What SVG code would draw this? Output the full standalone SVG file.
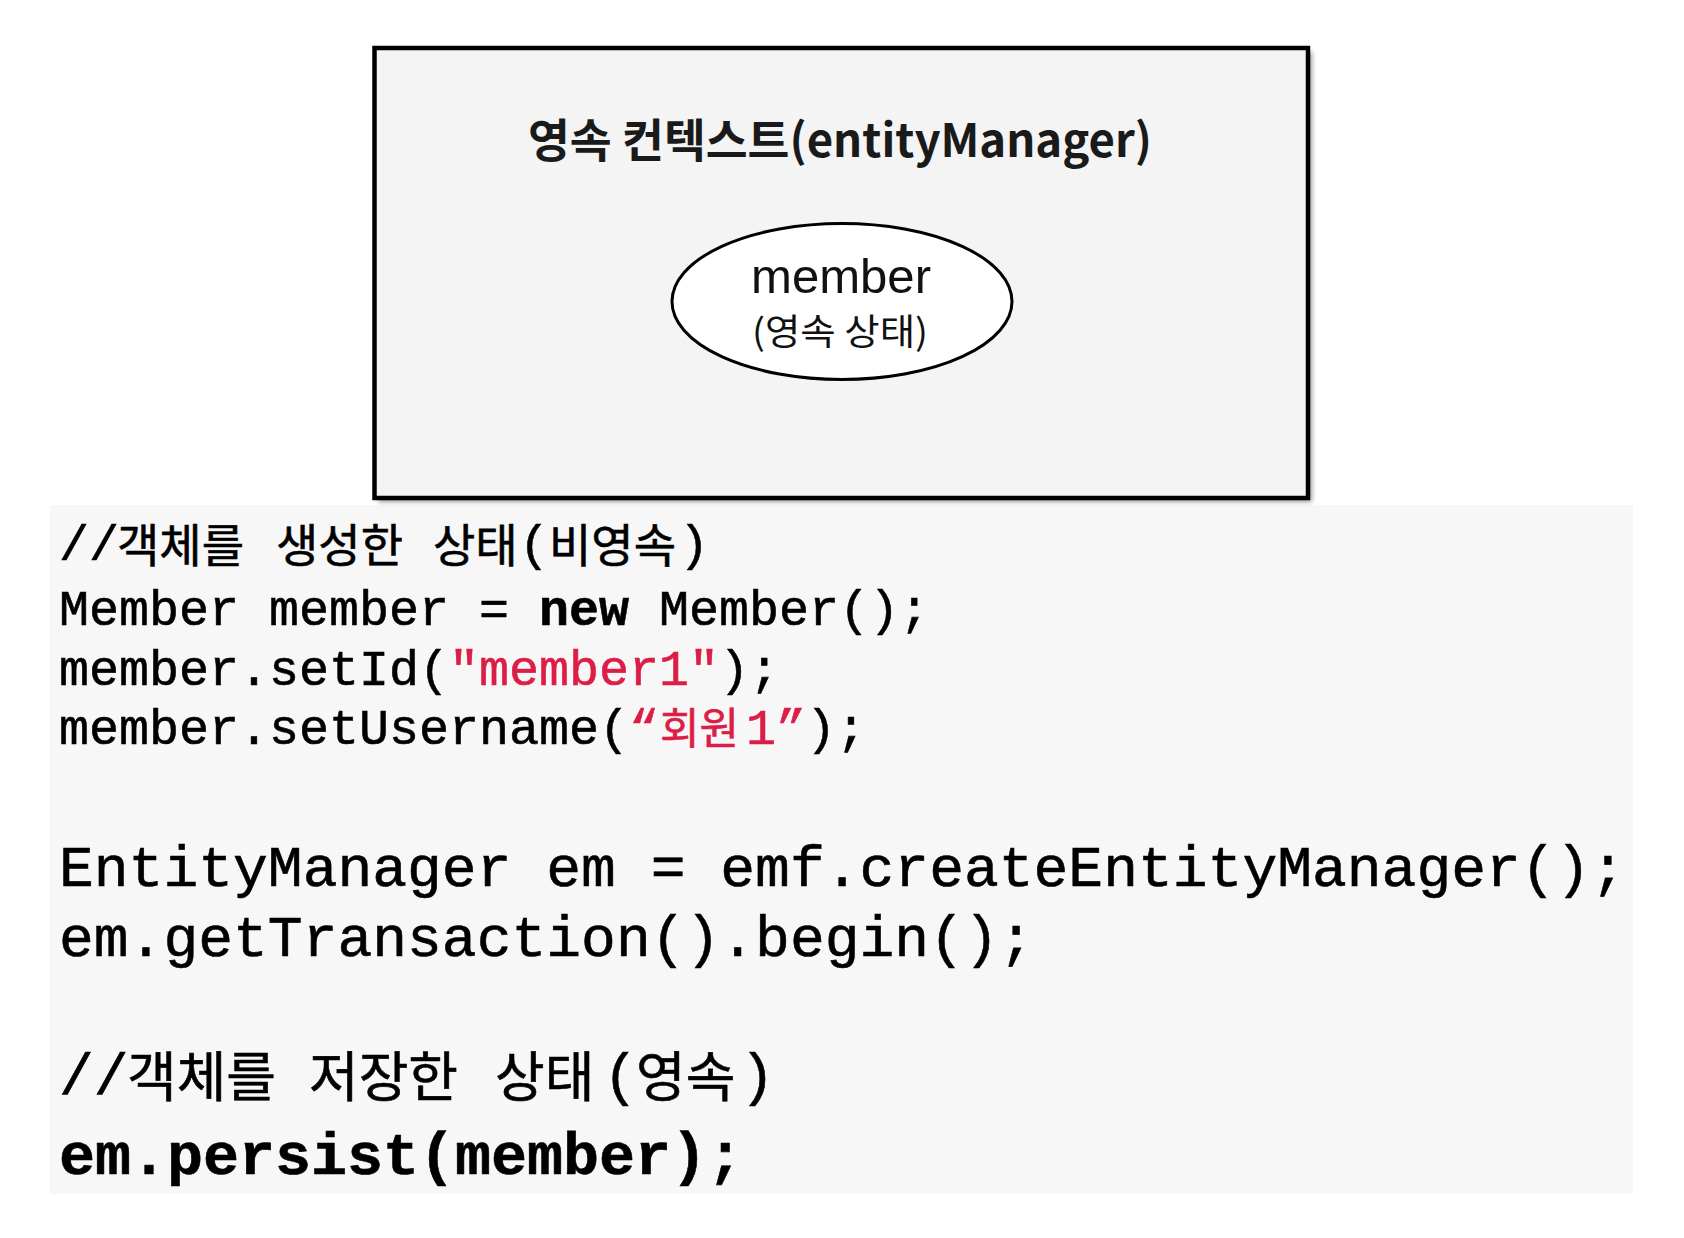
<svg xmlns="http://www.w3.org/2000/svg" width="1684" height="1238" viewBox="0 0 1684 1238">
<style>
text{white-space:pre}
.code{font-family:"Liberation Mono","Noto Sans CJK KR",monospace;fill:#000;stroke:#000;stroke-width:0.6}
.ko{font-family:"Noto Sans CJK KR","Liberation Sans",sans-serif}
.b{font-weight:bold}
.red{fill:#dc1e46;stroke:#dc1e46}
.sans{font-family:"Liberation Sans","Noto Sans CJK KR",sans-serif;fill:#111}
</style>
<defs>
<filter id="shadow" x="-5%" y="-5%" width="110%" height="110%">
<feGaussianBlur stdDeviation="2.5"/>
</filter>
</defs>
<rect x="0" y="0" width="1684" height="1238" fill="#ffffff"/>
<g id="code-panel">
<rect x="50" y="505" width="1583" height="689" fill="#f7f7f7"/>
</g>
<g id="persistence-context">
<rect x="378" y="52" width="934" height="450" fill="#9a9a9a" filter="url(#shadow)"/>
<rect x="374.5" y="48" width="933.5" height="450" fill="#f4f4f4" stroke="#000" stroke-width="4.5"/>
<text class="ko b" x="528" y="157" font-size="46" fill="#1a1a1a" textLength="624" lengthAdjust="spacingAndGlyphs">영속 컨텍스트(entityManager)</text>
</g>
<g id="member-node">
<ellipse cx="842" cy="301.5" rx="170" ry="78" fill="#ffffff" stroke="#000" stroke-width="3"/>
<text class="sans" x="841" y="293" font-size="49" text-anchor="middle" textLength="180" lengthAdjust="spacingAndGlyphs">member</text>
<text class="ko" x="752" y="345" font-size="36" fill="#111" textLength="176" lengthAdjust="spacingAndGlyphs">(영속 상태)</text>
</g>
<g id="connectors"></g>
<g id="code-lines">
<text class="code" y="560" font-size="50"><tspan x="59">//</tspan><tspan class="ko" x="117" y="562" font-size="46">객체를</tspan><tspan class="ko" x="276" y="562" font-size="46">생성한</tspan><tspan class="ko" x="433" y="562" font-size="46">상태</tspan><tspan x="519" y="560">(</tspan><tspan class="ko" x="549" y="562" font-size="46">비영속</tspan><tspan x="679" y="560">)</tspan></text>
<text class="code" x="59" y="625" font-size="50">Member member = <tspan class="b">new</tspan> Member();</text>
<text class="code" x="59" y="685" font-size="50">member.setId(<tspan class="red">"member1"</tspan>);</text>
<text class="code" y="744" font-size="50"><tspan x="59">member.setUsername(</tspan><tspan class="red">“</tspan><tspan class="ko red" x="660" font-size="43">회원</tspan><tspan class="red" x="746">1”</tspan>);</text>
<text class="code" x="59" y="886" font-size="58">EntityManager em = emf.createEntityManager();</text>
<text class="code" x="59" y="956" font-size="58">em.getTransaction().begin();</text>
<text class="code" y="1094" font-size="58"><tspan x="59">//</tspan><tspan class="ko" x="127" y="1097" font-size="54">객체를</tspan><tspan class="ko" x="309" y="1097" font-size="54">저장한</tspan><tspan class="ko" x="495" y="1097" font-size="54">상태</tspan><tspan x="603" y="1094">(</tspan><tspan class="ko" x="636" y="1097" font-size="54">영속</tspan><tspan x="740" y="1094">)</tspan></text>
<text class="code b" x="59" y="1174" font-size="60">em.persist(member);</text>
</g>
</svg>
